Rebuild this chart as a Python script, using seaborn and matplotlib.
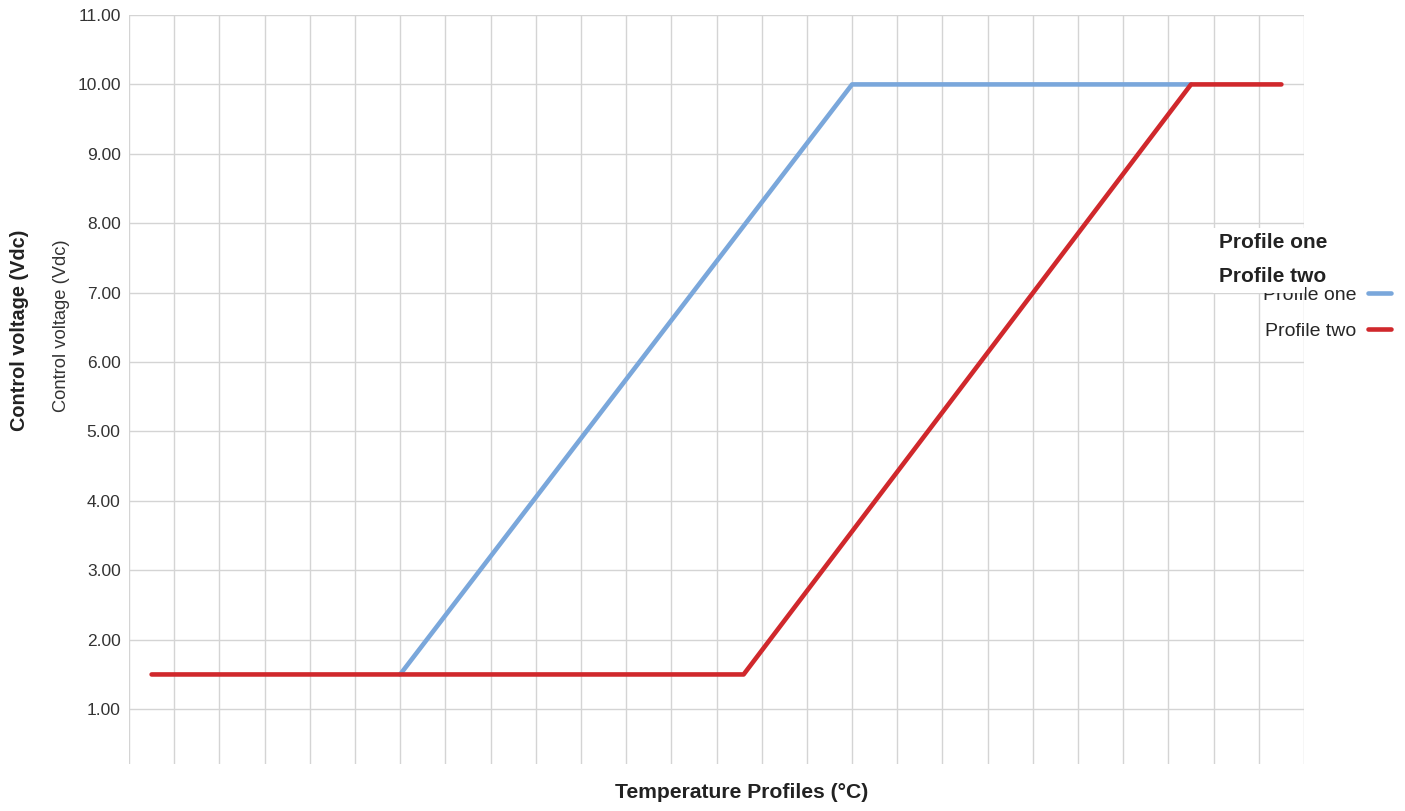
import matplotlib
matplotlib.use("Agg")
import matplotlib.pyplot as plt
import numpy as np
import pandas as pd
import seaborn as sns

# data (x in grid units, y in Vdc)
profile_one_x = [6.0, 16.0, 23.5]
profile_one_y = [1.5, 10.0, 10.0]
profile_two_x = [0.5, 13.6, 23.5, 25.5]
profile_two_y = [1.5, 1.5, 10.0, 10.0]
series_names = ["Profile one", "Profile two"]
series_colors = ["#7aa7db", "#d0282c"]
y_ticks = [1, 2, 3, 4, 5, 6, 7, 8, 9, 10, 11]

df = pd.concat([
    pd.DataFrame({"temp": profile_one_x, "volt": profile_one_y, "profile": series_names[0]}),
    pd.DataFrame({"temp": profile_two_x, "volt": profile_two_y, "profile": series_names[1]}),
], ignore_index=True)

sns.set_style("white")
plt.rcParams['font.family'] = ['Liberation Sans', 'DejaVu Sans']
narrow = ['Liberation Sans Narrow', 'Liberation Sans', 'DejaVu Sans']

fig = plt.figure(figsize=(14.05, 8.11), dpi=100)
ax = fig.add_axes([129 / 1405, 1 - 764 / 811, (1304 - 129) / 1405, (764 - 15) / 811])

sns.lineplot(data=df, x="temp", y="volt", hue="profile", palette=series_colors,
             hue_order=series_names, linewidth=3.3, sort=False, ax=ax, zorder=3)

ax.set_xlim(0, 26)
ax.set_ylim(0.21, 11)
ax.set_xticks(np.arange(0, 27))
ax.set_xticklabels([])
ax.set_yticks(y_ticks)
ax.set_yticklabels(["%.2f" % v for v in y_ticks], fontsize=12.5, color="#333333")
ax.tick_params(axis="both", length=0, pad=6)
ax.grid(True, color="#d4d4d4", linewidth=1)
for s in ax.spines.values():
    s.set_visible(False)
ax.set_xlabel("")
ax.set_ylabel("")

fig.text(742 / 1405, 1 - 793 / 811, "Temperature Profiles (°C)", ha="center", va="center",
         fontsize=15.2, fontweight="bold", family=narrow, color="#222222")
fig.text(20 / 1405, 1 - 330 / 811, "Control voltage (Vdc)", rotation=90, ha="center", va="center",
         fontsize=14.3, fontweight="bold", family=narrow, color="#222222")
fig.text(62 / 1405, 1 - 326 / 811, "Control voltage (Vdc)", rotation=90, ha="center", va="center",
         fontsize=13.2, family=narrow, color="#333333")

handles, labels = ax.get_legend_handles_labels()
ax.legend(handles, labels, loc="center right", bbox_to_anchor=(1405 / 1405, 1 - 313 / 811),
          bbox_transform=fig.transFigure, frameon=False, markerfirst=False,
          handlelength=1.2, handletextpad=0.6, labelspacing=0.95, borderpad=0.2,
          prop={"family": narrow, "size": 14})

# bold overlay labels sitting on top of the legend
fig.text(1219 / 1405, 1 - 243 / 811, "Profile one", ha="left", va="center",
         fontsize=15, fontweight="bold", family=narrow, color="#222222", zorder=10)
fig.text(1219 / 1405, 1 - 277 / 811, "Profile two", ha="left", va="center",
         fontsize=15, fontweight="bold", family=narrow, color="#222222", zorder=10,
         bbox=dict(facecolor="white", edgecolor="none", pad=0))
fig.patches.append(plt.Rectangle((1213 / 1405, 1 - 293 / 811), 92 / 1405, 65 / 811,
                                 transform=fig.transFigure, facecolor="white",
                                 edgecolor="none", zorder=5))

fig.savefig("out.png", dpi=100)
